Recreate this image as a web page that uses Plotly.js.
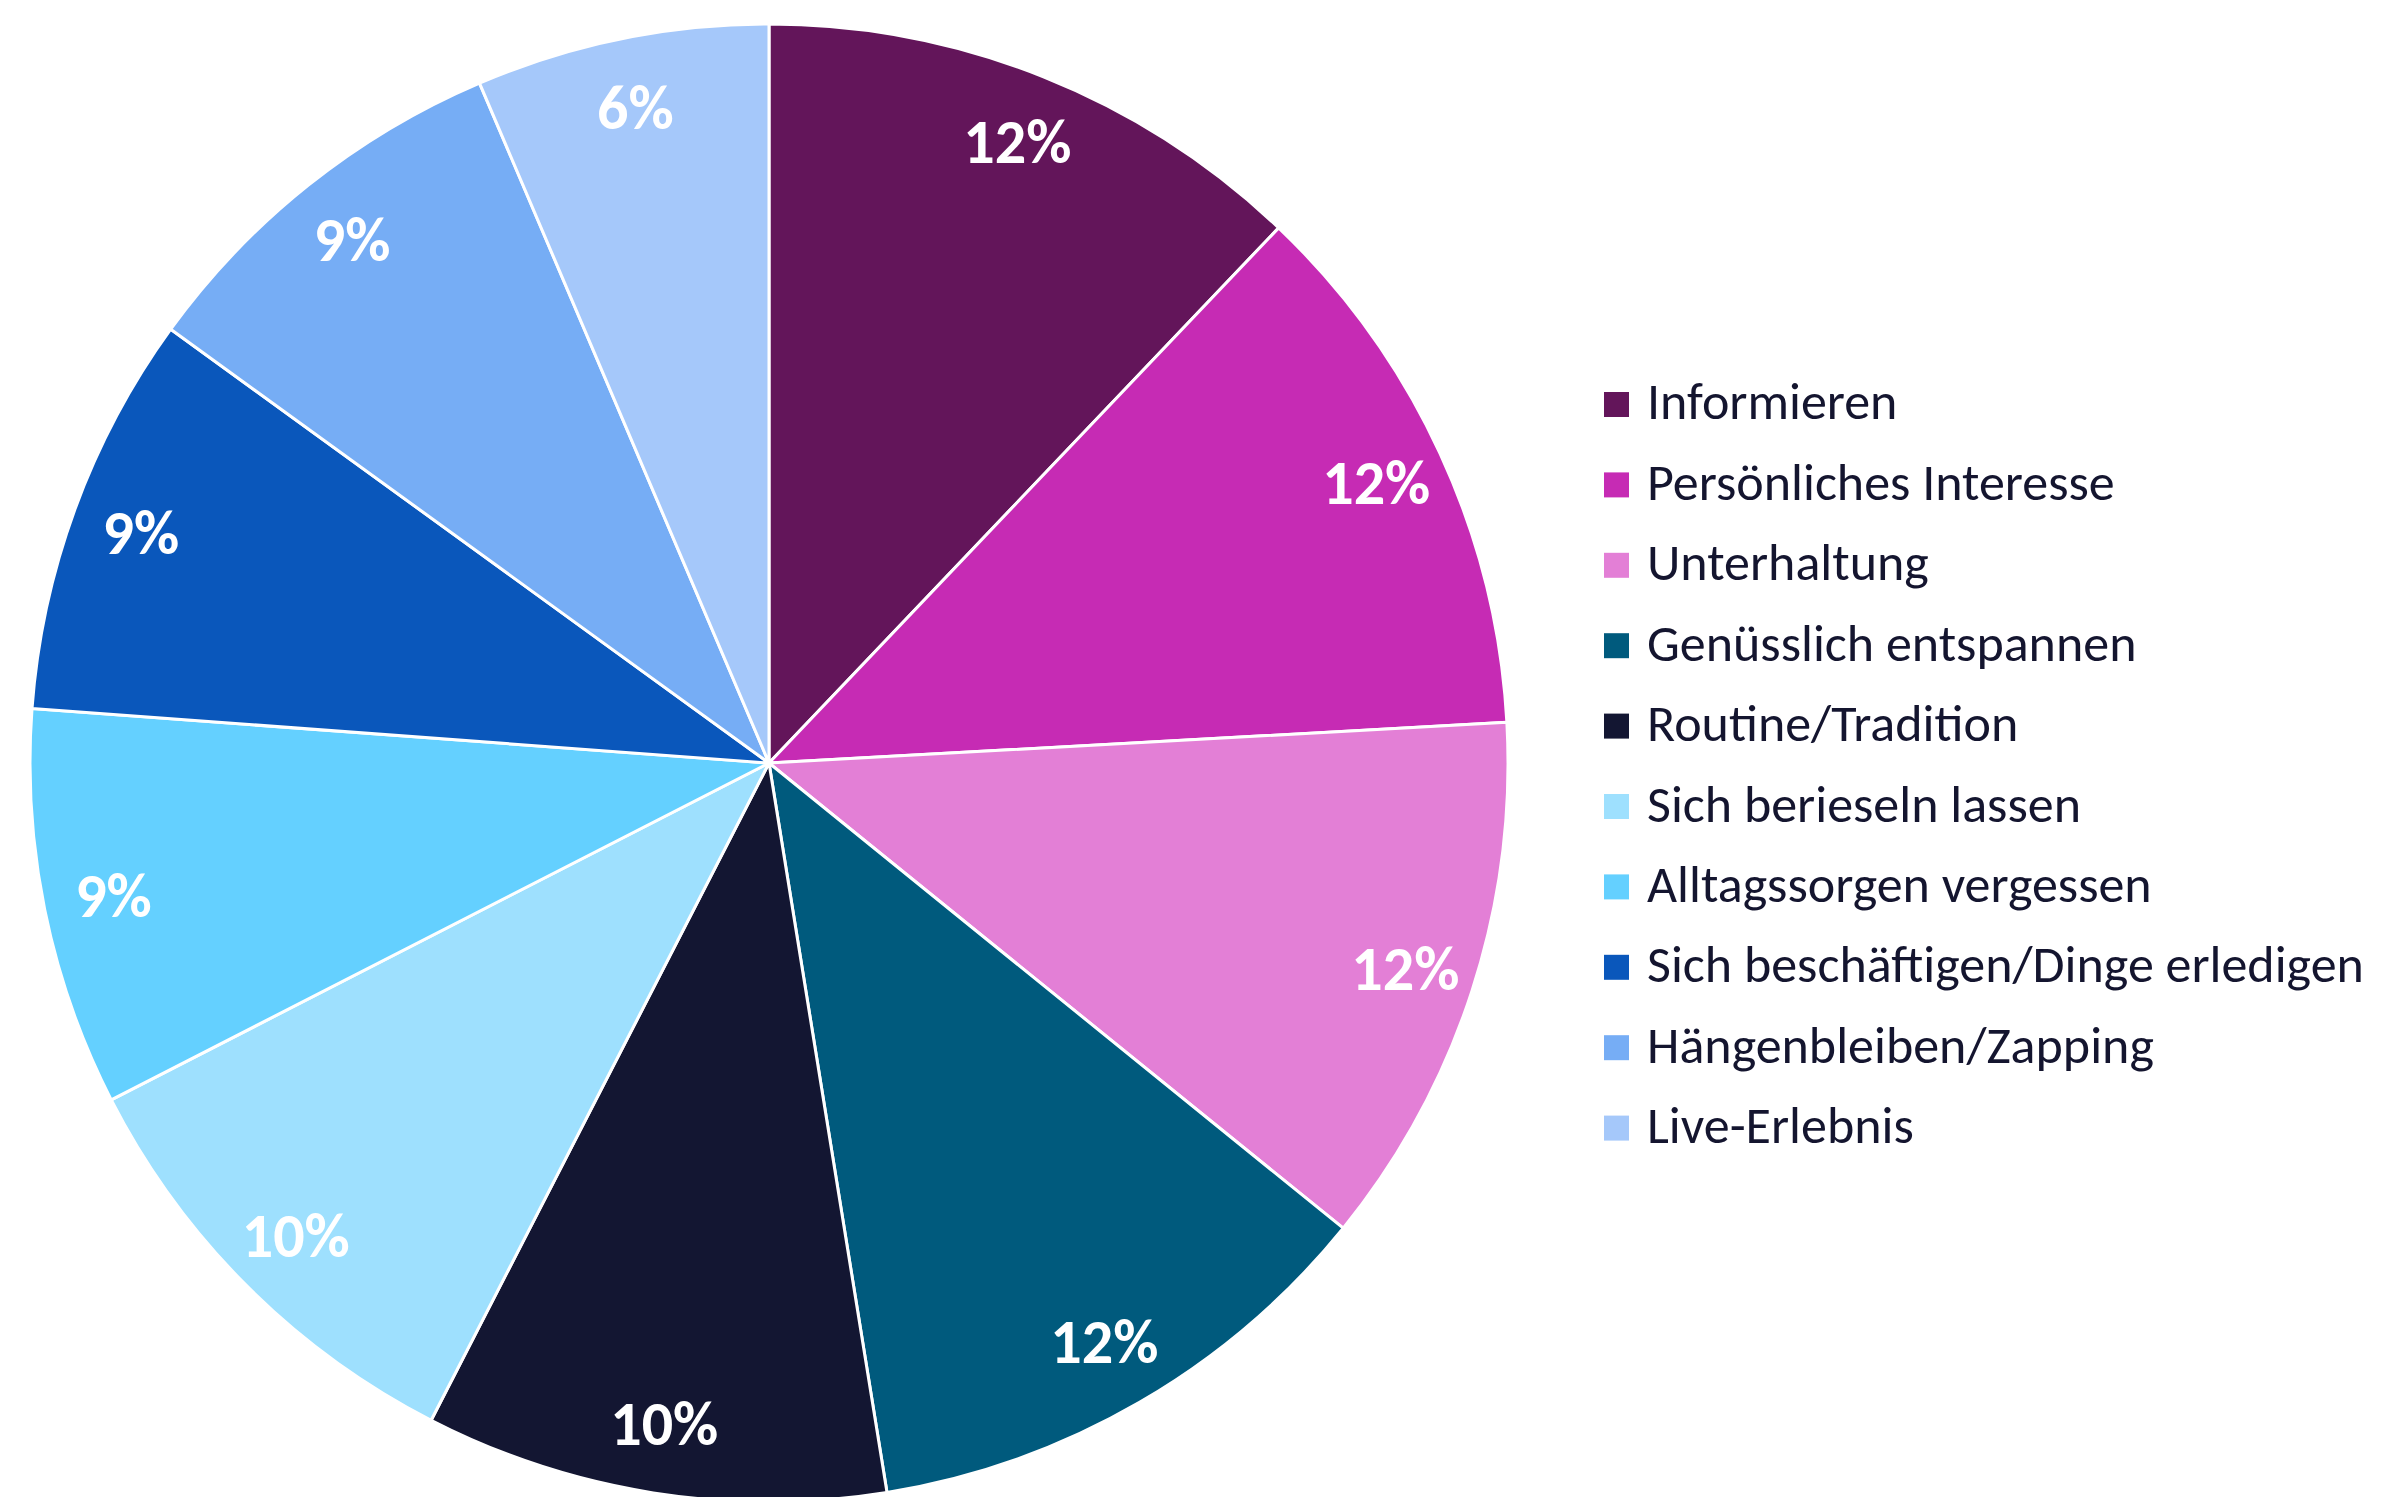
<!DOCTYPE html>
<html>
<head>
<meta charset="utf-8">
<script src="https://cdn.plot.ly/plotly-3.0.1.min.js"></script>
<style>
  html, body { margin: 0; padding: 0; background: #ffffff; overflow: hidden; }
  #chart { width: 2388px; height: 1530px; }
</style>
</head>
<body>
<div id="chart"></div>
<script>
// ---- data ----
const categories = [
  "Informieren",
  "Persönliches Interesse",
  "Unterhaltung",
  "Genüsslich entspannen",
  "Routine/Tradition",
  "Sich berieseln lassen",
  "Alltagssorgen vergessen",
  "Sich beschäftigen/Dinge erledigen",
  "Hängenbleiben/Zapping",
  "Live-Erlebnis"
];
const shares = [12.1, 12.0, 11.7, 11.6, 10.1, 9.9, 8.7, 8.8, 8.6, 6.4];
const sliceColors = [
  "#63155A", "#C62BB4", "#E37FD6", "#005A7D", "#131632",
  "#9EE0FE", "#64D0FF", "#0A57BB", "#76ADF5", "#A5C8FA"
];

// ---- layout constants ----
const W = 2388, H = 1530;
const CX = 769, CY = 763, R = 739;
const FONT = "Carlito, Lato, 'Open Sans', sans-serif";
const TEXT_COLOR = "#14152F";
const LEG_SQ_X = 1604, LEG_SQ = 25, LEG_TEXT_X = 1645, LEG_Y0 = 404.5, LEG_DY = 80.4;

const domain = {
  x: [(CX - R) / W, (CX + R) / W],
  y: [(H - (CY + R)) / H, (H - (CY - R)) / H]
};

const pieTrace = {
  type: "pie",
  labels: categories,
  values: shares,
  sort: false,
  direction: "clockwise",
  rotation: 0,
  domain: domain,
  marker: { colors: sliceColors, line: { color: "#ffffff", width: 3 } },
  textinfo: "none",
  hoverinfo: "skip",
  showlegend: false
};

// label ring: same data, transparent, only carries the percentage texts
const labelTrace = {
  type: "pie",
  labels: categories,
  values: shares,
  sort: false,
  direction: "clockwise",
  rotation: 0,
  hole: 0.81,
  domain: domain,
  marker: { colors: categories.map(() => "rgba(0,0,0,0)"), line: { width: 0 } },
  textposition: "inside",
  insidetextorientation: "horizontal",
  texttemplate: "%{percent:.0%}",
  textfont: { family: FONT, size: 62, color: "#ffffff", weight: "bold" },
  hoverinfo: "skip",
  showlegend: false
};

// legend built from categories/colors
const shapes = [];
const annotations = [];
categories.forEach((name, i) => {
  const yc = LEG_Y0 + i * LEG_DY;
  shapes.push({
    type: "rect", xref: "paper", yref: "paper",
    x0: LEG_SQ_X / W, x1: (LEG_SQ_X + LEG_SQ) / W,
    y0: (H - (yc + LEG_SQ / 2)) / H, y1: (H - (yc - LEG_SQ / 2)) / H,
    fillcolor: sliceColors[i], line: { width: 0 }
  });
  annotations.push({
    xref: "paper", yref: "paper",
    x: LEG_TEXT_X / W, y: (H - yc) / H,
    xanchor: "left", yanchor: "middle", yshift: 3,
    text: name, showarrow: false,
    font: { family: FONT, size: 52, color: TEXT_COLOR }
  });
});

const layout = {
  width: W, height: H,
  margin: { l: 0, r: 0, t: 0, b: 0, pad: 0 },
  paper_bgcolor: "#ffffff",
  plot_bgcolor: "#ffffff",
  showlegend: false,
  shapes: shapes,
  annotations: annotations,
  font: { family: FONT, color: TEXT_COLOR }
};

Plotly.newPlot("chart", [pieTrace, labelTrace], layout, { displayModeBar: false, staticPlot: true });
</script>
</body>
</html>
